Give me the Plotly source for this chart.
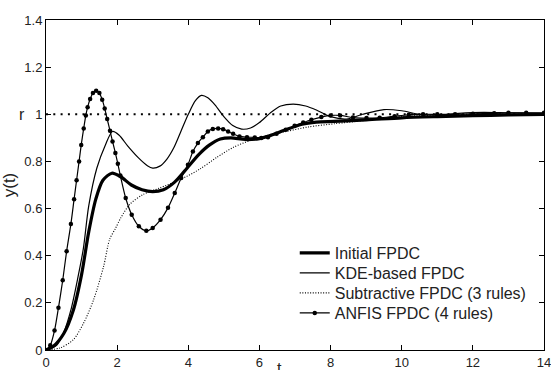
import plotly.graph_objects as go

# ---- data ----
t_initial = [0, 0.2, 0.5, 0.77, 1.0, 1.2, 1.4, 1.6, 1.85, 2.1, 2.4, 2.7, 3.0, 3.3, 3.6, 3.9,
             4.3, 4.6, 4.9, 5.2, 5.6, 6.0, 6.3, 6.7, 7.2, 7.6, 8.1, 9.0, 10.0, 11.0, 12.0, 13.0, 14.0]
y_initial = [0, 0.015, 0.07, 0.17, 0.32, 0.50, 0.64, 0.72, 0.75, 0.735, 0.70, 0.68, 0.672, 0.68, 0.71, 0.76,
             0.83, 0.87, 0.895, 0.90, 0.893, 0.897, 0.91, 0.932, 0.958, 0.967, 0.97, 0.976, 0.985, 0.99, 0.994, 0.997, 0.999]

t_kde = [0, 0.3, 0.5, 0.7, 0.9, 1.05, 1.2, 1.43, 1.67, 1.87, 2.05, 2.3, 2.6, 2.85, 3.0, 3.2, 3.4, 3.6,
         3.8, 4.0, 4.2, 4.37, 4.55, 4.75, 5.0, 5.25, 5.5, 5.75, 6.0, 6.3, 6.6, 6.95, 7.3, 7.6, 8.0,
         8.45, 8.9, 9.5, 10.0, 10.5, 11.0, 11.6, 12.3, 13.0, 14.0]
y_kde = [0, 0.02, 0.075, 0.17, 0.31, 0.43, 0.61, 0.772, 0.87, 0.927, 0.912, 0.865, 0.815, 0.782, 0.772, 0.78,
         0.81, 0.86, 0.93, 1.0, 1.058, 1.08, 1.07, 1.04, 0.99, 0.952, 0.937, 0.942, 0.965, 1.005, 1.035,
         1.043, 1.035, 1.018, 0.99, 0.98, 1.0, 1.02, 1.015, 1.0, 0.997, 1.004, 1.008, 1.006, 1.004]

t_sub = [0, 0.4, 0.77, 1.06, 1.34, 1.62, 1.79, 1.95, 2.1, 2.35, 2.72, 3.19, 3.76, 4.32, 4.8, 5.27,
         5.74, 6.22, 6.69, 7.36, 8.12, 9.06, 10.0, 11.0, 12.0, 14.0]
y_sub = [0, 0.009, 0.044, 0.115, 0.214, 0.355, 0.47, 0.515, 0.56, 0.617, 0.659, 0.687, 0.722, 0.767, 0.817, 0.86,
         0.889, 0.91, 0.925, 0.946, 0.96, 0.975, 0.99, 0.997, 1.0, 1.0]

t_anfis = [0, 0.12, 0.24, 0.35, 0.47, 0.58, 0.70, 0.79, 0.86, 0.93, 0.99, 1.06, 1.12, 1.17, 1.24, 1.32,
           1.41, 1.50, 1.58, 1.65, 1.72, 1.80, 1.87, 1.95, 2.02, 2.09, 2.24, 2.41, 2.61, 2.82, 3.00,
           3.22, 3.43, 3.62, 3.80, 3.99, 4.13, 4.27, 4.41, 4.55, 4.69, 4.84, 4.98, 5.12, 5.26, 5.44,
           5.65, 5.87, 6.05, 6.24, 6.48, 6.74, 6.99, 7.23, 7.46, 7.74, 8.00, 8.27, 8.63, 9.01, 9.38,
           9.8, 10.2, 10.6, 11.0, 11.5, 12.0, 12.6, 13.0, 13.5, 14.0]
y_anfis = [0, 0.02, 0.083, 0.179, 0.296, 0.419, 0.535, 0.64, 0.72, 0.80, 0.87, 0.94, 0.995, 1.03, 1.065, 1.09,
           1.10, 1.09, 1.062, 1.025, 0.98, 0.93, 0.885, 0.836, 0.79, 0.74, 0.645, 0.574, 0.525, 0.506, 0.518,
           0.553, 0.603, 0.666, 0.73, 0.786, 0.842, 0.878, 0.903, 0.927, 0.938, 0.94, 0.937, 0.927, 0.917, 0.906,
           0.903, 0.902, 0.899, 0.903, 0.917, 0.934, 0.951, 0.965, 0.977, 0.988, 0.995, 0.995, 0.986, 0.984, 0.985,
           0.992, 0.998, 1.0, 1.0, 1.0, 1.002, 1.004, 1.006, 1.006, 1.006]

ref_t = [0, 14]
ref_value = 1.0

x_ticks = [0, 2, 4, 6, 8, 10, 12, 14]
y_ticks = [0, 0.2, 0.4, 0.6, 0.8, 1.0, 1.2, 1.4]
y_ticktext = ["0", "0.2", "0.4", "0.6", "0.8", "1", "1.2", "1.4"]

FONT = "Liberation Sans, Arial, sans-serif"
TXT = "#222"

fig = go.Figure()
fig.add_trace(go.Scatter(x=ref_t, y=[ref_value, ref_value], mode="lines", showlegend=False,
                         line=dict(color="black", width=2, dash="2px,5.3px")))
fig.add_trace(go.Scatter(x=t_initial, y=y_initial, mode="lines", name="Initial FPDC", legend="legend",
                         line=dict(color="black", width=3.2, shape="spline", smoothing=0.8)))
fig.add_trace(go.Scatter(x=t_kde, y=y_kde, mode="lines", name="KDE-based FPDC", legend="legend2",
                         line=dict(color="black", width=1.2, shape="spline", smoothing=0.8)))
fig.add_trace(go.Scatter(x=t_sub, y=y_sub, mode="lines", name="Subtractive FPDC (3 rules)", legend="legend3",
                         line=dict(color="black", width=1.1, dash="1px,1.6px", shape="spline", smoothing=0.8)))
fig.add_trace(go.Scatter(x=t_anfis, y=y_anfis, mode="lines+markers", name="ANFIS FPDC (4 rules)", legend="legend4",
                         line=dict(color="black", width=1.2, shape="spline", smoothing=0.8),
                         marker=dict(color="black", size=4.5, symbol="circle")))

axis_common = dict(showline=True, linecolor="black", linewidth=1, mirror="ticks", ticks="inside",
                   ticklen=5, tickcolor="black", showgrid=False, zeroline=False, automargin=False,
                   ticklabeloverflow="allow",
                   tickfont=dict(family=FONT, size=13, color=TXT))

fig.update_xaxes(range=[0, 14], tickvals=x_ticks, ticktext=[str(v) for v in x_ticks], **axis_common)
fig.update_yaxes(range=[0, 1.4], tickvals=y_ticks, ticktext=y_ticktext,
                 title=dict(text="y(t)", font=dict(family=FONT, size=17, color=TXT), standoff=4),
                 **axis_common)

fig.add_annotation(x=0.469, y=-0.025, xref="paper", yref="paper", text="t", showarrow=False,
                   xanchor="center", yanchor="top", font=dict(family=FONT, size=16, color=TXT))
fig.add_annotation(x=-0.049, y=ref_value, xref="paper", yref="y", text="r", showarrow=False,
                   xanchor="center", yanchor="middle", font=dict(family=FONT, size=16, color=TXT))

leg_common = dict(x=0.4995, xanchor="left", yanchor="middle", bgcolor="rgba(0,0,0,0)",
                  font=dict(family=FONT, size=16, color=TXT), itemwidth=30)
fig.update_layout(
    width=551, height=370,
    margin=dict(l=46, r=7, t=20, b=20),
    paper_bgcolor="white", plot_bgcolor="white",
    font=dict(family=FONT, color=TXT),
    legend=dict(y=0.294, **leg_common),
    legend2=dict(y=0.2333, **leg_common),
    legend3=dict(y=0.1727, **leg_common),
    legend4=dict(y=0.1121, **leg_common),
)

# remove the browser's default 8px body margin so the figure fills the 551x370 window
fig.write_html("out.html", config={"displayModeBar": False},
               post_script="document.body.style.margin='0';document.body.style.overflow='hidden';")
